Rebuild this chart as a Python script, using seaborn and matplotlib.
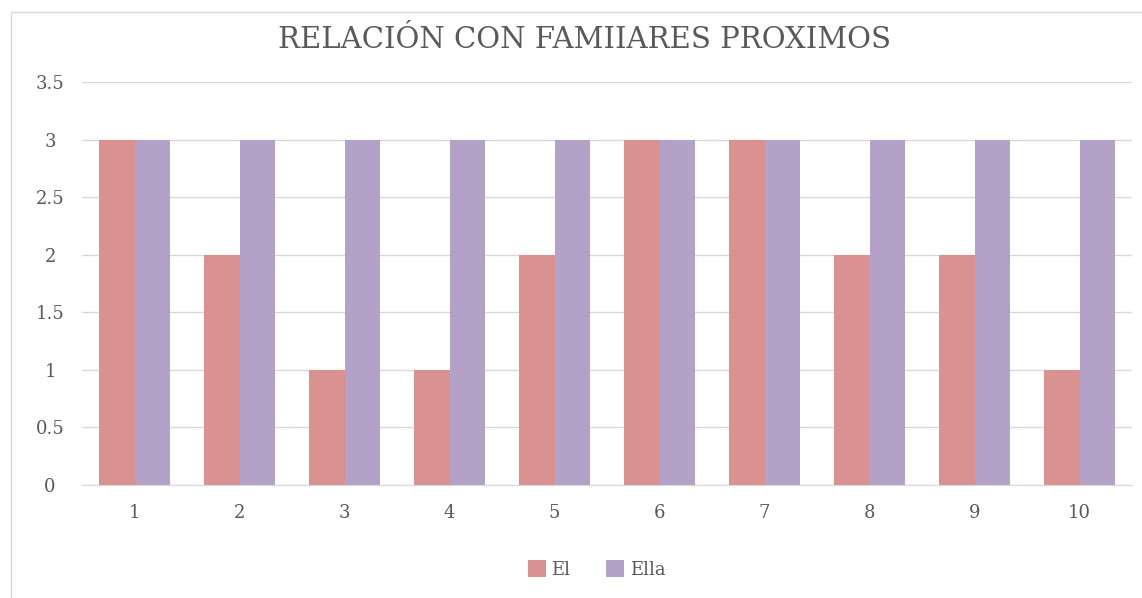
import matplotlib
matplotlib.use("Agg")
import matplotlib.pyplot as plt
import seaborn as sns
import pandas as pd
from matplotlib.patches import Rectangle

categories = ["1", "2", "3", "4", "5", "6", "7", "8", "9", "10"]
el_values = [3, 2, 1, 1, 2, 3, 3, 2, 2, 1]
ella_values = [3, 3, 3, 3, 3, 3, 3, 3, 3, 3]
series_names = ["El", "Ella"]
title = "RELACIÓN CON FAMIIARES PROXIMOS"

df = pd.DataFrame({
    "cat": categories * 2,
    "serie": [series_names[0]] * len(categories) + [series_names[1]] * len(categories),
    "valor": el_values + ella_values,
})

sns.set_style("white")
plt.rcParams['font.family'] = ['DejaVu Serif']
text_color = "#595959"

W, H = 1142, 598
fig = plt.figure(figsize=(W / 100, H / 100), dpi=100)
ax = fig.add_axes([82 / W, (H - 485) / H, (1132 - 82) / W, (485 - 82) / H])

palette = {"El": "#D9928F", "Ella": "#B3A1C7"}
sns.barplot(data=df, x="cat", y="valor", hue="serie", palette=palette,
            width=0.67, gap=0, ax=ax, saturation=1, legend=True, linewidth=0)

ax.set_ylim(0, 3.5)
ax.set_xlim(-0.5, len(categories) - 0.5)
ax.set_yticks([0, 0.5, 1, 1.5, 2, 2.5, 3, 3.5])
ax.set_yticklabels(["0", "0.5", "1", "1.5", "2", "2.5", "3", "3.5"])
ax.yaxis.grid(True, color="#D9D9D9", linewidth=1)
ax.set_axisbelow(True)
for s in ["top", "right", "left"]:
    ax.spines[s].set_visible(False)
ax.spines["bottom"].set_color("#D9D9D9")
ax.tick_params(axis="both", length=0, colors=text_color, labelsize=13)
ax.tick_params(axis="x", pad=14)
ax.tick_params(axis="y", pad=23)
for lbl in ax.get_yticklabels():
    lbl.set_horizontalalignment("center")
ax.set_xlabel("")
ax.set_ylabel("")

leg = ax.legend(loc="center", bbox_to_anchor=(0.49, -0.21), ncol=2, frameon=False,
                fontsize=13, handlelength=1.0, handleheight=1.0, columnspacing=2.0,
                handletextpad=0.3)
for t in leg.get_texts():
    t.set_color(text_color)

fig.text(585 / W, 1 - 40 / H, title, ha="center", va="center", fontsize=21,
         color=text_color)

fig.patches.append(Rectangle((11 / W, -0.05), 1.2, 1 - 12 / H + 0.05,
                             transform=fig.transFigure, fill=False,
                             edgecolor="#D9D9D9", linewidth=1))

fig.savefig("out.png", dpi=100)
